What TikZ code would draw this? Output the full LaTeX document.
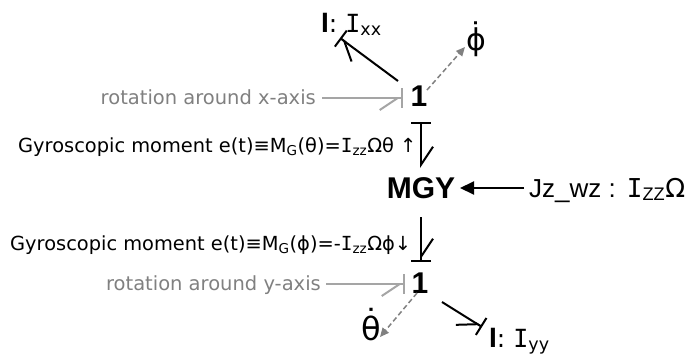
\documentclass[tikz,border=0pt]{standalone}
\usepackage{fontspec}
\setmainfont{DejaVu Sans}
\newfontfamily\arialf{Liberation Sans}
\newfontfamily\monof{DejaVu Sans Mono}
\usetikzlibrary{arrows.meta}
\newcommand\serI{{\monof I}}
\newcommand\dotted[2]{\ooalign{#1\cr\hidewidth\raisebox{#2}{˙}\hidewidth\cr}}
\definecolor{txtgray}{RGB}{128,128,128}
\definecolor{arrgray}{RGB}{165,165,165}
\definecolor{dashgray}{RGB}{128,128,128}
\begin{document}
\begin{tikzpicture}[x=1pt,y=-1pt,
  bigbold/.style={font=\arialf\bfseries\fontsize{30}{30}\selectfont, inner sep=0pt},
  gyro/.style={font=\fontsize{19.4}{19.4}\selectfont, inner sep=0pt, anchor=base west},
  rot/.style={font=\fontsize{19.5}{19.5}\selectfont, text=txtgray, inner sep=0pt, anchor=base east},
  elem/.style={font=\fontsize{25}{25}\selectfont, inner sep=0pt, anchor=base west},
  bond/.style={line width=2pt},
  gbond/.style={line width=2pt, draw=arrgray},
  causalend/.style={-{Straight Barb[#1,length=18pt,width=24pt,sep=0pt]Bar[width=20pt]}},
  causalstart/.style={{Bar[width=20pt]}-{Straight Barb[#1,length=18pt,width=24pt]}},
  dasharr/.style={draw=dashgray, line width=1.5pt, dash pattern=on 5pt off 3pt, -{Triangle[length=9pt,width=8pt]}},
  effarr/.style={line width=2pt, -{Triangle[length=14pt,width=13pt]}}
]
\useasboundingbox (0,0) rectangle (686,354);

% nodes
\node[bigbold] (o1) at (419,96) {1};
\node[bigbold] (mgy) at (421,188) {MGY};
\node[bigbold] (o2) at (420,283) {1};
\node[elem] (ix) at (321,32) {{\arialf\bfseries\fontsize{28}{28}\selectfont I}: \serI\textsubscript{xx}};
\node[elem] (iy) at (489,347) {{\arialf\bfseries\fontsize{28}{28}\selectfont I}: \serI\textsubscript{yy}};
\node[font=\fontsize{30}{30}\selectfont, inner sep=0pt, anchor=base] (phd) at (476,50) {\dotted{ϕ}{0.2em}};
\node[font=\fontsize{32}{32}\selectfont, inner sep=0pt, anchor=base] (thd) at (371,340) {\dotted{θ}{0.22em}};
\node[gyro] (g1) at (18,152) {Gyroscopic moment e(t)≡M\textsubscript{G}(θ)=\serI\textsubscript{zz}Ωθ ↑};
\node[gyro] (g2) at (10,250) {Gyroscopic moment e(t)≡M\textsubscript{G}(ϕ)=-\serI\textsubscript{zz}Ωϕ↓};
\node[rot] (rx) at (316,104) {rotation around x-axis};
\node[rot] (ry) at (321,290) {rotation around y-axis};
\node[elem, font=\fontsize{26}{26}\selectfont] (jz) at (529,197) {{\arialf Jz\_wz :} \serI\textsubscript{\arialf ZZ}Ω};

% coordinates for connector ends
\coordinate (o1ul) at (398,81);
\coordinate (ixtip) at (340,38);
\coordinate (o1ur) at (427,90);
\coordinate (phtip) at (465,47);
\coordinate (rxs) at (322,98);
\coordinate (rxe) at (403,98);
\coordinate (o1b) at (421,122);
\coordinate (mgyt) at (421,168);
\coordinate (mgyb) at (421,217);
\coordinate (o2t) at (421,262);
\coordinate (rys) at (326,284);
\coordinate (rye) at (405,284);
\coordinate (o2bl) at (417,293);
\coordinate (thtip) at (380,337);
\coordinate (o2br) at (442,302);
\coordinate (iytip) at (482,327);
\coordinate (jzs) at (524,188);
\coordinate (mgyr) at (460,188);

% connectors
\draw[bond, causalend=left] (o1ul) -- (ixtip);
\draw[dasharr] (o1ur) -- (phtip);
\draw[gbond, causalend=right] (rxs) -- (rxe);
\draw[bond, causalstart=left] (o1b) -- (mgyt);
\draw[effarr] (jzs) -- (mgyr);
\draw[bond, causalend=left] (mgyb) -- (o2t);
\draw[gbond, causalend=right] (rys) -- (rye);
\draw[dasharr] (o2bl) -- (thtip);
\draw[bond, causalend=right] (o2br) -- (iytip);
\end{tikzpicture}
\end{document}
